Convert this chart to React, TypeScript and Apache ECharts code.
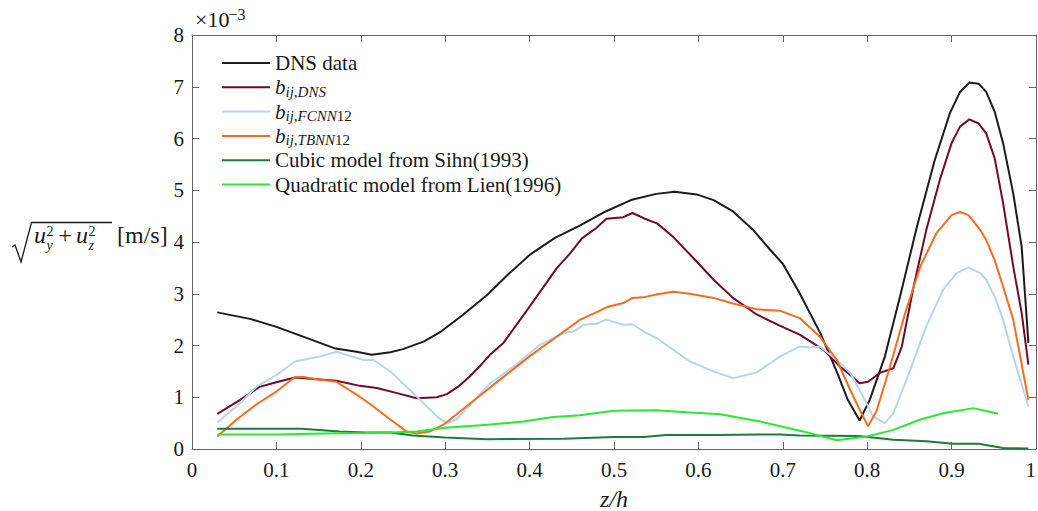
import React, { useEffect, useRef } from "react";
import * as echarts from "echarts";

const FONT = "'Liberation Serif', 'Times New Roman', serif";

const seriesNames = [
  "DNS data",
  "b_ij,DNS",
  "b_ij,FCNN12",
  "b_ij,TBNN12",
  "Cubic model from Sihn(1993)",
  "Quadratic model from Lien(1996)",
];

const seriesColors = ["#1c1c1c", "#6e0a2b", "#b6d6e8", "#f26d21", "#1e7b3a", "#2ae836"];

const xTicks = [0, 0.1, 0.2, 0.3, 0.4, 0.5, 0.6, 0.7, 0.8, 0.9, 1];
const yTicks = [0, 1, 2, 3, 4, 5, 6, 7, 8];

const dnsData = [
  [0.03, 2.64], [0.07, 2.51], [0.1, 2.36], [0.13, 2.18], [0.17, 1.94], [0.195, 1.88],
  [0.213, 1.82], [0.235, 1.87], [0.25, 1.93], [0.275, 2.08], [0.295, 2.27], [0.32, 2.58],
  [0.35, 2.98], [0.375, 3.38], [0.4, 3.75], [0.43, 4.08], [0.46, 4.32], [0.49, 4.59],
  [0.52, 4.81], [0.55, 4.93], [0.572, 4.97], [0.598, 4.92], [0.618, 4.81], [0.641, 4.59],
  [0.665, 4.23], [0.685, 3.85], [0.7, 3.58], [0.72, 3.01], [0.745, 2.22], [0.765, 1.45],
  [0.777, 0.95], [0.791, 0.55], [0.803, 0.95], [0.821, 1.79], [0.839, 2.95], [0.859, 4.3],
  [0.88, 5.58], [0.898, 6.49], [0.91, 6.9], [0.921, 7.08], [0.932, 7.06], [0.941, 6.9],
  [0.951, 6.52], [0.961, 5.91], [0.973, 4.94], [0.983, 3.91], [0.991, 2.05],
];

const bDnsData = [
  [0.03, 0.68], [0.057, 0.95], [0.08, 1.2], [0.1, 1.29], [0.122, 1.38], [0.148, 1.35],
  [0.171, 1.32], [0.199, 1.22], [0.219, 1.18], [0.243, 1.08], [0.266, 0.98], [0.29, 1.0],
  [0.302, 1.06], [0.315, 1.2], [0.329, 1.4], [0.341, 1.6], [0.353, 1.82], [0.369, 2.05],
  [0.4, 2.75], [0.432, 3.49], [0.448, 3.78], [0.462, 4.07], [0.479, 4.27], [0.491, 4.45],
  [0.511, 4.48], [0.522, 4.56], [0.535, 4.46], [0.551, 4.36], [0.57, 4.1], [0.594, 3.69],
  [0.618, 3.27], [0.641, 2.92], [0.669, 2.6], [0.697, 2.38], [0.72, 2.21], [0.748, 1.92],
  [0.768, 1.59], [0.78, 1.43], [0.791, 1.27], [0.801, 1.3], [0.815, 1.47], [0.831, 1.56],
  [0.841, 1.98], [0.855, 3.14], [0.87, 4.23], [0.886, 5.2], [0.9, 5.91], [0.91, 6.23],
  [0.921, 6.37], [0.932, 6.29], [0.941, 6.1], [0.951, 5.62], [0.961, 4.75], [0.973, 3.53],
  [0.983, 2.63], [0.991, 1.63],
];

const fcnnData = [
  [0.03, 0.51], [0.057, 0.89], [0.077, 1.21], [0.1, 1.43], [0.122, 1.69], [0.136, 1.74],
  [0.152, 1.79], [0.171, 1.88], [0.187, 1.8], [0.203, 1.72], [0.215, 1.72], [0.235, 1.5],
  [0.266, 1.02], [0.29, 0.63], [0.302, 0.49], [0.313, 0.57], [0.337, 0.98], [0.353, 1.27],
  [0.381, 1.59], [0.412, 2.01], [0.44, 2.24], [0.452, 2.27], [0.464, 2.4], [0.479, 2.42],
  [0.491, 2.5], [0.511, 2.4], [0.522, 2.41], [0.535, 2.27], [0.551, 2.14], [0.57, 1.92],
  [0.59, 1.69], [0.618, 1.5], [0.641, 1.37], [0.669, 1.48], [0.697, 1.79], [0.72, 1.98],
  [0.732, 1.96], [0.744, 1.98], [0.764, 1.72], [0.78, 1.47], [0.795, 1.02], [0.807, 0.63],
  [0.821, 0.5], [0.831, 0.69], [0.851, 1.53], [0.87, 2.37], [0.89, 3.08], [0.906, 3.4],
  [0.92, 3.51], [0.934, 3.4], [0.941, 3.27], [0.951, 2.95], [0.961, 2.5], [0.973, 1.79],
  [0.991, 0.82],
];

const tbnnData = [
  [0.03, 0.24], [0.053, 0.57], [0.077, 0.87], [0.1, 1.11], [0.122, 1.39], [0.132, 1.39],
  [0.148, 1.35], [0.171, 1.3], [0.195, 1.05], [0.211, 0.87], [0.235, 0.57], [0.254, 0.34],
  [0.266, 0.3], [0.282, 0.34], [0.298, 0.47], [0.325, 0.82], [0.341, 1.03], [0.365, 1.34],
  [0.4, 1.79], [0.432, 2.17], [0.46, 2.5], [0.479, 2.64], [0.493, 2.75], [0.511, 2.82],
  [0.522, 2.92], [0.535, 2.93], [0.551, 2.99], [0.57, 3.04], [0.59, 3.0], [0.618, 2.92],
  [0.641, 2.81], [0.669, 2.7], [0.697, 2.67], [0.72, 2.53], [0.744, 2.17], [0.764, 1.72],
  [0.78, 1.14], [0.791, 0.76], [0.801, 0.44], [0.811, 0.73], [0.827, 1.59], [0.845, 2.63],
  [0.863, 3.53], [0.882, 4.17], [0.9, 4.52], [0.91, 4.58], [0.92, 4.52], [0.934, 4.23],
  [0.941, 4.04], [0.951, 3.65], [0.961, 3.14], [0.973, 2.5], [0.991, 0.95],
];

const cubicData = [
  [0.03, 0.39], [0.08, 0.39], [0.13, 0.39], [0.175, 0.34], [0.205, 0.32], [0.235, 0.32],
  [0.262, 0.26], [0.3, 0.22], [0.35, 0.19], [0.44, 0.2], [0.5, 0.23], [0.535, 0.23],
  [0.562, 0.27], [0.62, 0.27], [0.673, 0.28], [0.697, 0.28], [0.72, 0.26], [0.79, 0.25],
  [0.831, 0.18], [0.87, 0.15], [0.902, 0.1], [0.932, 0.1], [0.961, 0.02], [0.991, 0.01],
];

const quadData = [
  [0.03, 0.28], [0.1, 0.28], [0.155, 0.3], [0.205, 0.31], [0.235, 0.32], [0.266, 0.34],
  [0.3, 0.41], [0.35, 0.47], [0.393, 0.53], [0.428, 0.62], [0.46, 0.65], [0.5, 0.74],
  [0.55, 0.75], [0.586, 0.71], [0.626, 0.67], [0.673, 0.53], [0.724, 0.34], [0.764, 0.17],
  [0.8, 0.24], [0.831, 0.37], [0.863, 0.57], [0.89, 0.69], [0.926, 0.79], [0.955, 0.68],
];

const allData = [dnsData, bDnsData, fcnnData, tbnnData, cubicData, quadData];

const AXIS_COLOR = "#666666";
const TEXT_COLOR = "#1a1a1a";

function legendFormatter(name: string): string {
  if (name.startsWith("b_")) {
    const sub = name.slice(2);
    const m = sub.match(/^(.*?)(\d+)?$/);
    const letters = m ? m[1] : sub;
    const digits = m && m[2] ? m[2] : "";
    const parts = letters.split(",");
    let s = "{b|b}{si|" + parts[0] + "}{sr|,}{si|" + parts[1] + "}";
    if (digits) s += "{sr|" + digits + "}";
    return s;
  }
  return "{n|" + name + "}";
}

export default function App() {
  const ref = useRef<HTMLDivElement>(null);

  useEffect(() => {
    if (!ref.current) return;
    const chart = echarts.init(ref.current, null, { renderer: "svg" });

    const axisCommon = {
      type: "value" as const,
      axisLine: { show: true, onZero: false, lineStyle: { color: AXIS_COLOR, width: 1 } },
      axisTick: { show: true, inside: true, length: 7, lineStyle: { color: AXIS_COLOR, width: 1 } },
      splitLine: { show: false },
    };

    const txt = (
      text: string,
      x: number,
      y: number,
      size: number,
      italic: boolean,
      align: string = "left"
    ) => ({
      type: "text",
      x,
      y,
      silent: true,
      style: {
        text,
        fontFamily: FONT,
        fontSize: size,
        fontStyle: italic ? "italic" : "normal",
        fill: TEXT_COLOR,
        align,
        verticalAlign: "middle",
      },
    });

    chart.setOption({
      animation: false,
      backgroundColor: "#ffffff",
      grid: {
        left: 192,
        right: 2,
        top: 35,
        bottom: 62,
        containLabel: false,
        outerBoundsMode: "none",
      },
      xAxis: [
        {
          ...axisCommon,
          position: "bottom",
          min: xTicks[0],
          max: xTicks[xTicks.length - 1],
          interval: 0.1,
          axisLabel: {
            show: true,
            fontFamily: FONT,
            fontSize: 21,
            color: TEXT_COLOR,
            margin: 10,
            hideOverlap: false,
            alignMaxLabel: "right",
            formatter: (v: number) => String(Number(v.toFixed(1))),
          },
          name: "z/h",
          nameLocation: "middle",
          nameGap: 38,
          nameTextStyle: { fontFamily: FONT, fontSize: 24, fontStyle: "italic", color: TEXT_COLOR },
        },
        {
          ...axisCommon,
          position: "top",
          min: xTicks[0],
          max: xTicks[xTicks.length - 1],
          interval: 0.1,
          axisLabel: { show: false },
        },
      ],
      yAxis: [
        {
          ...axisCommon,
          position: "left",
          min: yTicks[0],
          max: yTicks[yTicks.length - 1],
          interval: 1,
          axisLabel: {
            show: true,
            fontFamily: FONT,
            fontSize: 21,
            color: TEXT_COLOR,
            margin: 8,
          },
        },
        {
          ...axisCommon,
          position: "right",
          min: yTicks[0],
          max: yTicks[yTicks.length - 1],
          interval: 1,
          axisLabel: { show: false },
        },
      ],
      legend: {
        show: true,
        orient: "vertical",
        left: 222,
        top: 51,
        padding: 0,
        itemWidth: 48,
        itemHeight: 2,
        itemGap: 0.3,
        icon: "rect",
        selectedMode: false,
        data: seriesNames,
        formatter: legendFormatter,
        textStyle: {
          fontFamily: FONT,
          fontSize: 21,
          color: TEXT_COLOR,
          lineHeight: 24,
          rich: {
            n: { fontFamily: FONT, fontSize: 21, lineHeight: 24, color: TEXT_COLOR },
            b: { fontFamily: FONT, fontSize: 21, lineHeight: 24, fontStyle: "italic", color: TEXT_COLOR },
            si: {
              fontFamily: FONT,
              fontSize: 15,
              lineHeight: 12,
              fontStyle: "italic",
              verticalAlign: "bottom",
              color: TEXT_COLOR,
            },
            sr: {
              fontFamily: FONT,
              fontSize: 15,
              lineHeight: 12,
              verticalAlign: "bottom",
              color: TEXT_COLOR,
            },
          },
        },
      },
      series: seriesNames.map((name, i) => ({
        name,
        type: "line",
        xAxisIndex: 0,
        yAxisIndex: 0,
        data: allData[i],
        symbol: "none",
        showSymbol: false,
        smooth: false,
        color: seriesColors[i],
        lineStyle: { color: seriesColors[i], width: 2 },
        emphasis: { disabled: true },
      })),
      graphic: [
        // multiplier ×10^-3
        txt("×10", 195, 19.5, 22, false),
        txt("−3", 228.5, 14, 16, false),
        // y axis label: sqrt(u_y^2 + u_z^2) [m/s]
        {
          type: "polyline",
          silent: true,
          shape: {
            points: [
              [12, 247],
              [15, 245],
              [21, 262],
              [31.5, 222.5],
              [112, 222.5],
            ],
          },
          style: { stroke: TEXT_COLOR, lineWidth: 1.3, fill: "none" },
        },
        txt("u", 34, 235.2, 24, true),
        txt("2", 46.5, 231, 14, false),
        txt("y", 46.5, 245.5, 14, true),
        txt("+", 65, 235.2, 24, false, "center"),
        txt("u", 76, 235.2, 24, true),
        txt("2", 88.5, 231, 14, false),
        txt("z", 88.5, 245.5, 14, true),
        txt("[m/s]", 117, 235.2, 24, false),
      ],
    });

    return () => {
      chart.dispose();
    };
  }, []);

  return (
    <div
      ref={ref}
      style={{ position: "fixed", left: 0, top: 0, width: 1038, height: 511, background: "#fff" }}
    />
  );
}
